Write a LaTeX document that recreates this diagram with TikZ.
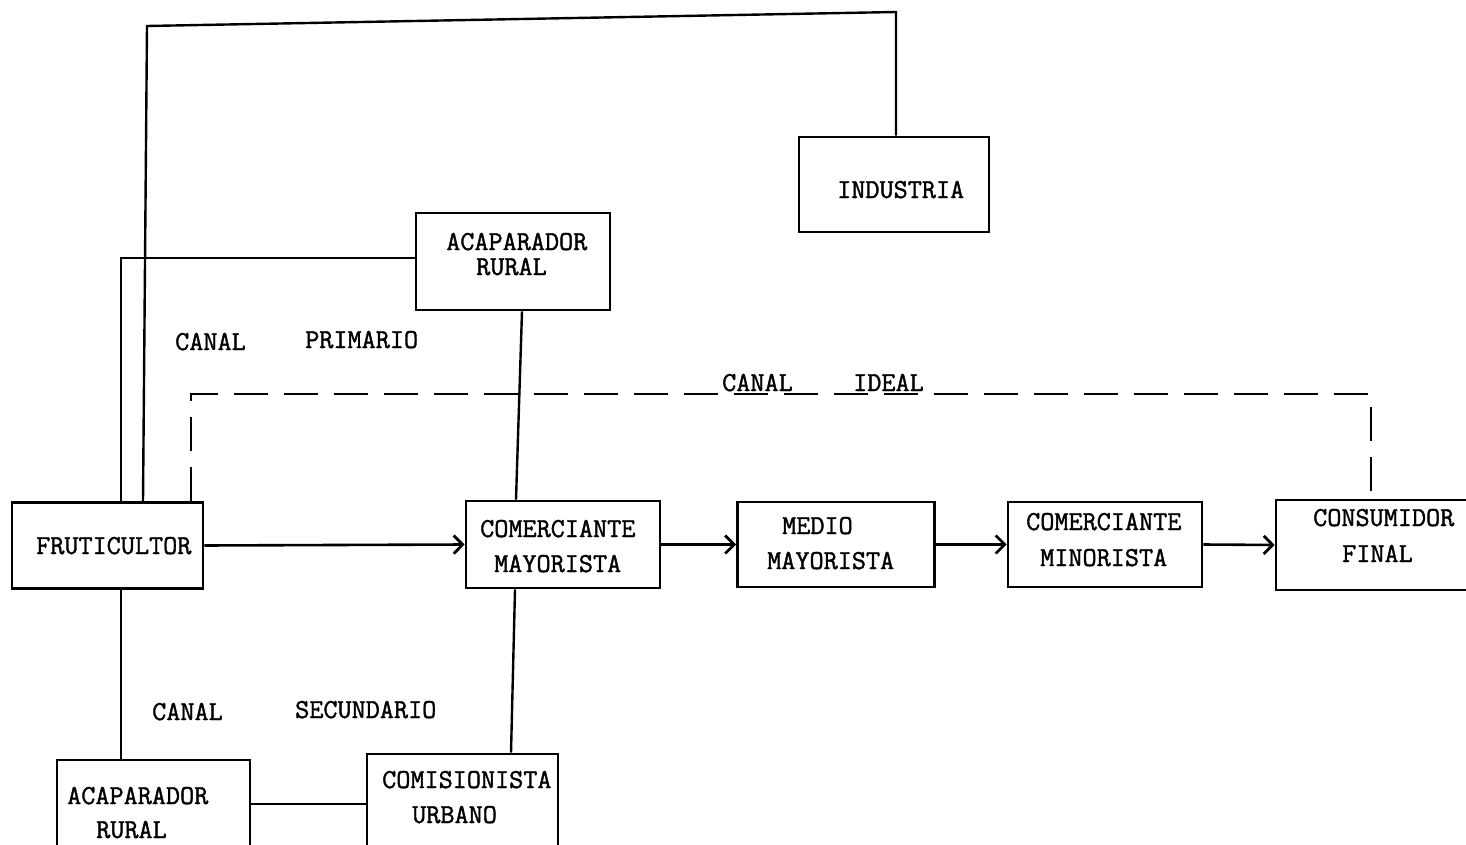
\documentclass[tikz,border=0pt]{standalone}
\usepackage{fontspec}
\newfontfamily\tw{Latin Modern Mono}[FakeBold=1.4]
\usetikzlibrary{arrows.meta}
\begin{document}
\begin{tikzpicture}[x=1pt,y=-1pt,
  box/.style={draw,line width=2.6pt,rectangle,inner sep=0pt},
  lbl/.style={inner sep=0pt,anchor=base west,font=\tw\fontsize{27.4}{32}\selectfont},
  conn/.style={line width=2.4pt},
  arr/.style={line width=2.6pt,-{Straight Barb[length=9pt,width=18pt,line width=2.8pt]}},
  ideal/.style={line width=2.4pt,dash pattern=on 34pt off 16pt}]
\useasboundingbox (0,0) rectangle (1466,845);
\clip (0,0) rectangle (1466,845);
% boxes
\node[box,minimum width=191pt,minimum height=86pt] (fr) at (107.5,545.5) {};
\node[box,minimum width=194pt,minimum height=87pt] (cm) at (563,544.5) {};
\node[box,minimum width=197pt,minimum height=85pt] (mm) at (836,544.5) {};
\node[box,minimum width=194pt,minimum height=85pt] (cmi) at (1105,544.5) {};
\node[box,minimum width=196pt,minimum height=90pt] (cf) at (1374,545) {};
\node[box,minimum width=190pt,minimum height=95pt] (ind) at (894,184.5) {};
\node[box,minimum width=194pt,minimum height=97pt] (ar1) at (513,261.5) {};
\node[box,minimum width=193pt,minimum height=90pt] (ar2) at (153.5,805) {};
\node[box,minimum width=191pt,minimum height=96pt] (com) at (462.5,802) {};
% texts
\node[lbl] (t1) at (36,554) {FRUTICULTOR};
\node[lbl] (t2) at (480,537) {COMERCIANTE};
\node[lbl] (t3) at (494,572) {MAYORISTA};
\node[lbl] (t4) at (782,534) {MEDIO};
\node[lbl] (t5) at (767,569) {MAYORISTA};
\node[lbl] (t6) at (1026,530) {COMERCIANTE};
\node[lbl] (t7) at (1040,566) {MINORISTA};
\node[lbl] (t8) at (1313,526) {CONSUMIDOR};
\node[lbl] (t9) at (1342,562) {FINAL};
\node[lbl] (t10) at (837,198) {INDUSTRIA};
\node[lbl] (t11) at (446,250) {ACAPARADOR};
\node[lbl] (t12) at (476,275) {RURAL};
\node[lbl] (t13) at (175,350) {CANAL};
\node[lbl] (t14) at (305,348) {PRIMARIO};
\node[lbl] (t15) at (722,391) {CANAL};
\node[lbl] (t16) at (853,391) {IDEAL};
\node[lbl] (t17) at (152,720) {CANAL};
\node[lbl] (t18) at (295,718) {SECUNDARIO};
\node[lbl] (t19) at (67,804) {ACAPARADOR};
\node[lbl] (t20) at (96,838) {RURAL};
\node[lbl] (t21) at (382,788) {COMISIONISTA};
\node[lbl] (t22) at (412,823) {URBANO};
% connectors
\draw[conn] (143,0 |- fr.north) -- (147,26) -- (896,12) -- (896,0 |- ind.north);
\draw[conn] (121,0 |- fr.north) |- (ar1.west |- 0,258);
\draw[conn] (522,0 |- ar1.south) -- (516,0 |- cm.north);
\draw[ideal] (191,0 |- fr.north) |- (1371,394) -- (1371,0 |- cf.north);
\draw[conn] (121,0 |- fr.south) -- (121,0 |- ar2.north);
\draw[conn] (515,0 |- cm.south) -- (511,0 |- com.north);
\draw[conn] (ar2.east |- 0,804) -- (com.west |- 0,804);
\draw[arr] (fr.east) -- (cm.west);
\draw[arr] (cm.east) -- (mm.west);
\draw[arr] (mm.east) -- (cmi.west);
\draw[arr] (cmi.east) -- (cf.west);
\end{tikzpicture}
\end{document}
